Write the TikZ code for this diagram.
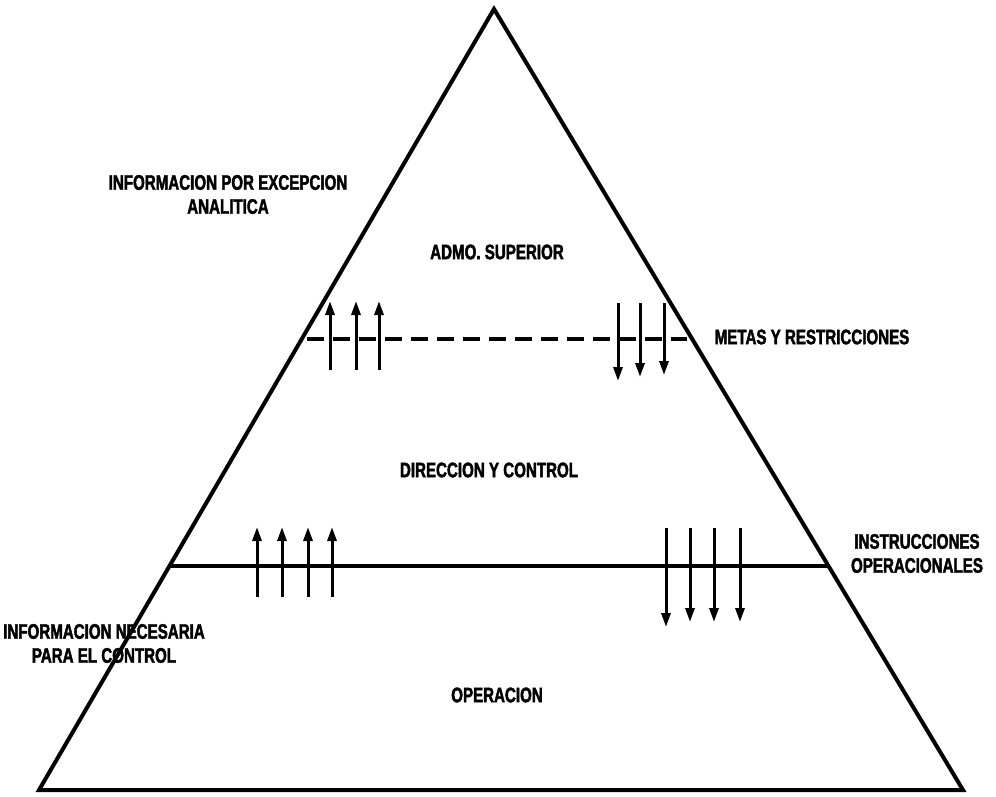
\documentclass[tikz,border=0pt]{standalone}
\usepackage{fontspec}
\usetikzlibrary{arrows.meta,calc}
\newfontfamily\labfont{Liberation Sans}[FakeStretch=0.72,FakeBold=2]
\begin{document}
\begin{tikzpicture}[x=1pt,y=-1pt,
  edge/.style={line width=4pt,line join=miter},
  level/.style={line width=3.2pt},
  flow/.style={line width=3pt,-{Triangle[length=14pt,width=9pt]}},
  lbl/.style={font=\labfont\bfseries\fontsize{21}{24}\selectfont,inner sep=0pt,align=center}]
  \useasboundingbox (0,0) rectangle (996,796);
  % pyramid outline
  \coordinate (apex) at (494,9);
  \coordinate (bl) at (39,790);
  \coordinate (br) at (963,790);
  \draw[edge] (bl) -- (apex) -- (br) -- cycle;
  % level boundaries
  \coordinate (dl) at (307,339);
  \coordinate (dr) at (687,339);
  \draw[level,dash pattern=on 17pt off 9pt] (dl) -- (dr);
  \coordinate (sl) at ($(apex)!0.7132!(bl)$);
  \coordinate (sr) at ($(apex)!0.7132!(br)$);
  \draw[level] (sl) -- (sr);
  % upward reports, upper boundary
  \foreach \x [count=\i] in {330,356,379}{
    \coordinate (ua\i) at (\x,370);
    \coordinate (ub\i) at (\x,301);
    \draw[flow] (ua\i) -- (ub\i);
  }
  % downward goals, upper boundary
  \foreach \x/\e [count=\i] in {618/381,640/377,664/375}{
    \coordinate (da\i) at (\x,303);
    \coordinate (db\i) at (\x,\e);
    \draw[flow] (da\i) -- (db\i);
  }
  % upward reports, lower boundary
  \foreach \x [count=\i] in {257,282,308,332}{
    \coordinate (la\i) at (\x,597);
    \coordinate (lb\i) at (\x,527);
    \draw[flow] (la\i) -- (lb\i);
  }
  % downward instructions, lower boundary
  \foreach \x/\e [count=\i] in {666/627,690/622,714/622,740/622}{
    \coordinate (ma\i) at (\x,528);
    \coordinate (mb\i) at (\x,\e);
    \draw[flow] (ma\i) -- (mb\i);
  }
  % labels
  \node[lbl] (exc) at (228,194.5) {INFORMACION POR EXCEPCION\\ANALITICA};
  \node[lbl] (sup) at (497,252) {ADMO. SUPERIOR};
  \node[lbl] (met) at (812,337) {METAS Y RESTRICCIONES};
  \node[lbl] (dir) at (489,470) {DIRECCION Y CONTROL};
  \node[lbl] (ins) at (917,553.5) {INSTRUCCIONES\\OPERACIONALES};
  \node[lbl] (nec) at (104,643.5) {INFORMACION NECESARIA\\PARA EL CONTROL};
  \node[lbl] (ope) at (497,695) {OPERACION};
\end{tikzpicture}
\end{document}
